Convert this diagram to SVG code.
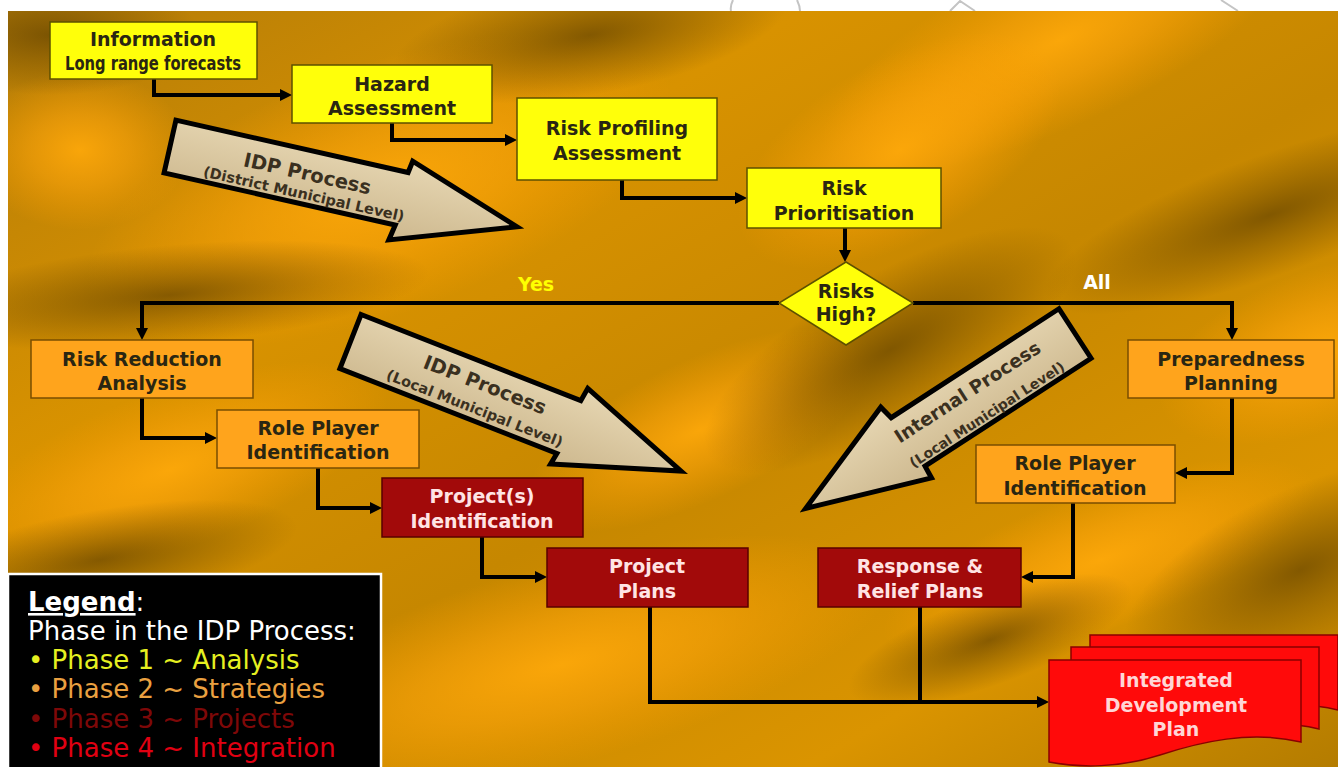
<svg xmlns="http://www.w3.org/2000/svg" width="1338" height="767" viewBox="0 0 1338 767">
<style>
.t{font-family:"DejaVu Sans",Verdana,sans-serif;font-weight:bold;font-size:19px;text-anchor:middle}
.dk{fill:#2a2612}
.lt{fill:#FFE4E4}
.y rect,.y polygon{fill:#FFFF0A;stroke:#5e5000;stroke-width:1.5}
.o rect{fill:#FFA41C;stroke:#7a4e00;stroke-width:1.5}
.r rect{fill:#A20A0A;stroke:#5a0000;stroke-width:1.5}
.doc{fill:#FF0A0A;stroke:#8a0000;stroke-width:1.5}
.conn path{fill:none;stroke:#000;stroke-width:4}
.blk polygon{fill:url(#tan);stroke:#000;stroke-width:5;stroke-linejoin:miter}
.bt{font-family:"DejaVu Sans",Verdana,sans-serif;font-weight:bold;fill:#3a3020;text-anchor:middle}
.lg{font-family:"DejaVu Sans",Verdana,sans-serif;font-size:26px}
.gl{fill:none;stroke:#c4c4c4;stroke-width:2}
</style>
<defs>
<radialGradient id="hi"><stop offset="0" stop-color="#FFA90A" stop-opacity="0.9"/><stop offset="0.45" stop-color="#FFA50A" stop-opacity="0.55"/><stop offset="1" stop-color="#FFA000" stop-opacity="0"/></radialGradient>
<radialGradient id="lo"><stop offset="0" stop-color="#654400" stop-opacity="0.72"/><stop offset="0.45" stop-color="#6a4800" stop-opacity="0.4"/><stop offset="1" stop-color="#6a4800" stop-opacity="0"/></radialGradient>
<linearGradient id="base" x1="0" y1="0" x2="1" y2="1"><stop offset="0" stop-color="#B47C08"/><stop offset="0.3" stop-color="#D89200"/><stop offset="0.55" stop-color="#C68700"/><stop offset="0.8" stop-color="#DA9400"/><stop offset="1" stop-color="#B47C00"/></linearGradient>
<linearGradient id="tan" x1="0" y1="0" x2="0" y2="1"><stop offset="0" stop-color="#E6D6B2"/><stop offset="1" stop-color="#CDB88E"/></linearGradient>
<clipPath id="bgc"><rect x="8" y="11" width="1330" height="756"/></clipPath>
<marker id="ah" viewBox="0 0 12 12" markerWidth="12" markerHeight="12" refX="6" refY="6" orient="auto" markerUnits="userSpaceOnUse"><path d="M0,0 L12,6 L0,12 z" fill="#000"/></marker>
</defs>

<rect x="0" y="0" width="1338" height="767" fill="#fff"/>
<path class="gl" d="M733,0 Q730,6 731,11 M797,0 Q800,6 800,11 M950,11 L960,1 L975,11 M1221,0 L1238,11"/>

<g id="background" clip-path="url(#bgc)">
<rect x="8" y="11" width="1330" height="756" fill="url(#base)"/>
<ellipse cx="1060" cy="40" rx="260" ry="85" transform="rotate(-25 1060 40)" fill="url(#hi)"/>
<ellipse cx="380" cy="190" rx="310" ry="125" transform="rotate(-20 380 190)" fill="url(#hi)"/>
<ellipse cx="80" cy="150" rx="110" ry="80" fill="url(#hi)"/>
<ellipse cx="1320" cy="350" rx="170" ry="80" transform="rotate(-20 1320 350)" fill="url(#hi)"/>
<ellipse cx="560" cy="665" rx="340" ry="100" transform="rotate(-15 560 665)" fill="url(#hi)"/>
<ellipse cx="170" cy="470" rx="230" ry="80" transform="rotate(-20 170 470)" fill="url(#hi)"/>
<ellipse cx="1100" cy="560" rx="230" ry="70" transform="rotate(-20 1100 560)" fill="url(#hi)"/>
<ellipse cx="700" cy="430" rx="190" ry="70" transform="rotate(-25 700 430)" fill="url(#hi)"/>
<ellipse cx="900" cy="150" rx="180" ry="90" transform="rotate(-30 900 150)" fill="url(#hi)"/>
<ellipse cx="590" cy="35" rx="200" ry="60" transform="rotate(-10 590 35)" fill="url(#lo)"/>
<ellipse cx="50" cy="35" rx="150" ry="60" fill="url(#lo)"/>
<ellipse cx="1270" cy="215" rx="240" ry="60" transform="rotate(-20 1270 215)" fill="url(#lo)"/>
<ellipse cx="890" cy="350" rx="210" ry="75" transform="rotate(-30 890 350)" fill="url(#lo)"/>
<ellipse cx="170" cy="295" rx="260" ry="50" transform="rotate(-5 170 295)" fill="url(#lo)"/>
<ellipse cx="100" cy="560" rx="200" ry="50" transform="rotate(-10 100 560)" fill="url(#lo)"/>
<ellipse cx="1300" cy="570" rx="190" ry="80" transform="rotate(-25 1300 570)" fill="url(#lo)"/>
<ellipse cx="990" cy="640" rx="150" ry="45" transform="rotate(-20 990 640)" fill="url(#lo)"/>
</g>

<g id="arrow-district" class="blk" transform="translate(170 146.5) rotate(12.7)">
<polygon points="0,-27 238,-27 240,-39 356,2 234,43 237,27 0,27"/>
<text class="bt" x="140" y="3" font-size="19.5">IDP Process</text>
<text class="bt" x="141" y="22" font-size="14.5">(District Municipal Level)</text>
</g>
<g id="arrow-local" class="blk" transform="translate(350.5 341.5) rotate(21.4)">
<polygon points="0,-29 236,-29 238,-43 355,0 231,41 233,29 0,29"/>
<text class="bt" x="141" y="-2" font-size="19.5">IDP Process</text>
<text class="bt" x="140" y="22" font-size="14.5">(Local Municipal Level)</text>
</g>
<g id="arrow-internal" class="blk" transform="translate(1075 333.5) rotate(-33)">
<polygon points="0,-29.5 -200,-29.5 -203,-44 -321,0 -199,43 -198,29.5 0,29.5"/>
<text class="bt" x="-122" y="-3" font-size="18.5">Internal Process</text>
<text class="bt" x="-118" y="25" font-size="14">(Local Municipal Level)</text>
</g>

<g id="connectors" class="conn">
<path d="M154,79 V95 H286" marker-end="url(#ah)"/>
<path d="M392,123 V140 H511" marker-end="url(#ah)"/>
<path d="M622,180 V198 H741" marker-end="url(#ah)"/>
<path d="M845,228 V256" marker-end="url(#ah)"/>
<path d="M779,303 H142 V334" marker-end="url(#ah)"/>
<path d="M913,303 H1232 V334" marker-end="url(#ah)"/>
<path d="M142,398 V438 H211" marker-end="url(#ah)"/>
<path d="M318,468 V508 H376" marker-end="url(#ah)"/>
<path d="M482,537 V577 H541" marker-end="url(#ah)"/>
<path d="M1232,398 V473 H1181" marker-end="url(#ah)"/>
<path d="M1073,503 V577 H1027" marker-end="url(#ah)"/>
<path d="M650,607 V702 H1043" marker-end="url(#ah)"/>
<path d="M920,607 V702"/>
</g>

<text x="536" y="291" class="t" font-size="22" fill="#FFFF00">Yes</text>
<text x="1097" y="289" class="t" font-size="21" fill="#FFFFFF">All</text>

<g id="n-information" class="y">
<rect x="50" y="22" width="207" height="57"/>
<text class="t dk" x="153" y="46">Information</text>
<text class="t dk" x="153" y="70" font-size="13.5" textLength="176" lengthAdjust="spacingAndGlyphs">Long range forecasts</text>
</g>
<g id="n-hazard" class="y">
<rect x="292" y="65" width="200" height="58"/>
<text class="t dk" x="392" y="91">Hazard</text>
<text class="t dk" x="392" y="115">Assessment</text>
</g>
<g id="n-profiling" class="y">
<rect x="517" y="98" width="200" height="82"/>
<text class="t dk" x="617" y="135">Risk Profiling</text>
<text class="t dk" x="617" y="160">Assessment</text>
</g>
<g id="n-prioritisation" class="y">
<rect x="747" y="168" width="194" height="60"/>
<text class="t dk" x="844" y="195">Risk</text>
<text class="t dk" x="844" y="220">Prioritisation</text>
</g>
<g id="n-decision" class="y">
<polygon points="846,262 913,303 846,345 779,303"/>
<text class="t dk" x="846" y="298">Risks</text>
<text class="t dk" x="846" y="321">High?</text>
</g>
<g id="n-reduction" class="o">
<rect x="31" y="340" width="222" height="58"/>
<text class="t dk" x="142" y="366">Risk Reduction</text>
<text class="t dk" x="142" y="390">Analysis</text>
</g>
<g id="n-roleplayer-left" class="o">
<rect x="217" y="410" width="202" height="58"/>
<text class="t dk" x="318" y="435">Role Player</text>
<text class="t dk" x="318" y="459">Identification</text>
</g>
<g id="n-projects-id" class="r">
<rect x="382" y="478" width="201" height="59"/>
<text class="t lt" x="482" y="503">Project(s)</text>
<text class="t lt" x="482" y="528">Identification</text>
</g>
<g id="n-project-plans" class="r">
<rect x="547" y="548" width="201" height="59"/>
<text class="t lt" x="647" y="573">Project</text>
<text class="t lt" x="647" y="598">Plans</text>
</g>
<g id="n-preparedness" class="o">
<rect x="1128" y="340" width="206" height="58"/>
<text class="t dk" x="1231" y="366">Preparedness</text>
<text class="t dk" x="1231" y="390">Planning</text>
</g>
<g id="n-roleplayer-right" class="o">
<rect x="976" y="445" width="199" height="58"/>
<text class="t dk" x="1075" y="470">Role Player</text>
<text class="t dk" x="1075" y="495">Identification</text>
</g>
<g id="n-response" class="r">
<rect x="818" y="548" width="203" height="59"/>
<text class="t lt" x="920" y="573">Response &amp;</text>
<text class="t lt" x="920" y="598">Relief Plans</text>
</g>
<g id="n-idp">
<path class="doc" d="M1090,635 H1338 V710 C1290,698 1240,710 1200,720 C1160,732 1120,732 1090,728 Z"/>
<path class="doc" d="M1071,647 H1319 V729 C1270,717 1220,729 1180,741 C1140,753 1100,753 1071,746 Z"/>
<path class="doc" d="M1049,660 H1301 V742 C1250,730 1200,742 1160,755 C1120,768 1080,768 1049,762 Z"/>
<text class="t" x="1176" y="687" fill="#FFD6D6">Integrated</text>
<text class="t" x="1176" y="712" fill="#FFD6D6">Development</text>
<text class="t" x="1176" y="736" fill="#FFD6D6">Plan</text>
</g>

<g id="legend">
<rect x="8" y="574" width="373" height="200" fill="#000" stroke="#fff" stroke-width="2.5"/>
<text class="lg" x="28" y="611" fill="#fff"><tspan font-weight="bold" text-decoration="underline">Legend</tspan>:</text>
<text class="lg" x="28" y="640" fill="#fff">Phase in the IDP Process:</text>
<text class="lg" x="28" y="669" fill="#E6F020">•  Phase 1 ~ Analysis</text>
<text class="lg" x="28" y="698" fill="#EAA040">•  Phase 2 ~ Strategies</text>
<text class="lg" x="28" y="728" fill="#7E0808">•  Phase 3 ~ Projects</text>
<text class="lg" x="28" y="757" fill="#E00012">•  Phase 4 ~ Integration</text>
</g>
</svg>
